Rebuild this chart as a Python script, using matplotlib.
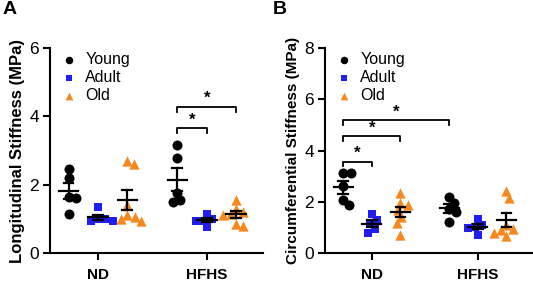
import numpy as np
import matplotlib
matplotlib.use('Agg')
import matplotlib.pyplot as plt

plt.rcParams['font.family'] = ['Liberation Sans', 'DejaVu Sans']

diets = ['ND', 'HFHS']
ages = ['Young', 'Adult', 'Old']
colors = ['#000000', '#1f1ff5', '#f5891f']
markers = ['o', 's', '^']

# longitudinal stiffness (MPa), panel A
long_nd_young = [2.45, 2.2, 1.65, 1.6, 1.15]
long_nd_adult = [1.35, 1.0, 0.95, 0.95, 1.0]
long_nd_old = [2.7, 2.6, 1.4, 1.1, 1.05, 1.0, 0.95]
long_hfhs_young = [3.16, 2.78, 1.75, 1.5, 1.55]
long_hfhs_adult = [1.15, 1.0, 0.95, 0.95, 0.75]
long_hfhs_old = [1.55, 1.3, 1.2, 1.15, 1.1, 0.85, 0.8]

# circumferential stiffness (MPa), panel B
circ_nd_young = [3.13, 3.13, 2.6, 1.88, 2.07]
circ_nd_adult = [1.52, 1.3, 1.17, 0.78, 0.94]
circ_nd_old = [2.35, 1.97, 1.88, 1.69, 1.42, 1.17, 0.71]
circ_hfhs_young = [2.2, 1.97, 1.72, 1.61, 1.22]
circ_hfhs_adult = [1.33, 1.1, 1.0, 0.98, 0.72]
circ_hfhs_old = [2.43, 2.16, 1.1, 0.95, 0.9, 0.8, 0.67]

long_groups = [[long_nd_young, long_nd_adult, long_nd_old],
               [long_hfhs_young, long_hfhs_adult, long_hfhs_old]]
circ_groups = [[circ_nd_young, circ_nd_adult, circ_nd_old],
               [circ_hfhs_young, circ_hfhs_adult, circ_hfhs_old]]

# significance brackets: ((diet, age), (diet, age), bracket height)
long_sig = [((1, 0), (1, 1), 3.65), ((1, 0), (1, 2), 4.27)]
circ_sig = [((0, 0), (0, 1), 3.57), ((0, 0), (0, 2), 4.55), ((0, 0), (1, 0), 5.18)]

offsets = [-0.27, 0.0, 0.27]


def swarm(ax, xc, vals, d):
    # simple beeswarm in pixel space, returns x positions in data units
    pts = ax.transData.transform(np.column_stack([np.full(len(vals), xc), vals]))
    x0 = pts[0, 0]
    order = np.argsort(vals)[::-1]
    placed = []
    xs = np.zeros(len(vals))
    for i in order:
        y = pts[i, 1]
        cands = [0.0]
        for (px, py) in placed:
            dy = abs(py - y)
            if dy < d:
                dx = np.sqrt(d * d - dy * dy)
                cands += [px - x0 + dx, px - x0 - dx]
        cands.sort(key=abs)
        for c in cands:
            if all((px - x0 - c) ** 2 + (py - y) ** 2 >= d * d - 1e-6 for (px, py) in placed):
                break
        placed.append((x0 + c, y))
        xs[i] = x0 + c
    inv = ax.transData.inverted()
    return inv.transform(np.column_stack([xs, pts[:, 1]]))[:, 0]


def panel(ax, groups, sig, ymax, ylabel, ylabel_size):
    ax.set_xlim(-0.44, 1.52)
    ax.set_ylim(0, ymax)
    for gi, diet in enumerate(groups):
        for ai, vals in enumerate(diet):
            xc = gi + offsets[ai]
            vals = np.array(vals)
            xs = swarm(ax, xc, vals, 7.5)
            ax.scatter(xs, vals, s=[52, 38, 55][ai], marker=markers[ai], color=colors[ai],
                       linewidths=0, zorder=2, clip_on=False,
                       label=ages[ai] if gi == 0 else None)
            m = vals.mean()
            se = vals.std(ddof=1) / np.sqrt(len(vals))
            ax.plot([xc - 0.09, xc + 0.09], [m, m], color='black', lw=1.6, zorder=3)
            ax.plot([xc, xc], [m - se, m + se], color='black', lw=1.6, zorder=3)
            ax.plot([xc - 0.045, xc + 0.045], [m + se, m + se], color='black', lw=1.6, zorder=3)
            ax.plot([xc - 0.045, xc + 0.045], [m - se, m - se], color='black', lw=1.6, zorder=3)
    h = ymax * 0.022
    for (g1, a1), (g2, a2), yb in sig:
        x1 = g1 + offsets[a1]
        x2 = g2 + offsets[a2]
        ax.plot([x1, x1, x2, x2], [yb - h, yb, yb, yb - h], color='black', lw=1.3)
        ax.text((x1 + x2) / 2, yb + h * 0.2, '*', ha='center', va='bottom',
                fontsize=12, fontweight='bold')
    ax.set_xticks([0, 1])
    ax.set_xticklabels(diets, fontsize=11, fontweight='bold')
    ax.set_yticks(np.arange(0, ymax + 1, 2))
    ax.tick_params(axis='y', labelsize=12.5, width=1.5, length=5, pad=3)
    ax.tick_params(axis='x', width=1.5, length=5, pad=6)
    for s in ['top', 'right']:
        ax.spines[s].set_visible(False)
    for s in ['left', 'bottom']:
        ax.spines[s].set_linewidth(1.5)
    ax.set_ylabel(ylabel, fontsize=ylabel_size, fontweight='bold', labelpad=3)
    ax.legend(loc='upper left', bbox_to_anchor=(0.0, 1.035), frameon=False,
              fontsize=11.5, markerscale=0.75, handletextpad=0.5,
              labelspacing=0.2, handlelength=1.0, borderaxespad=0.3)
    return ax


fig = plt.figure(figsize=(5.33, 2.84), dpi=100)
axA = fig.add_axes([0.094, 0.109, 0.4, 0.722])
axB = fig.add_axes([0.61, 0.109, 0.39, 0.722])
panel(axA, long_groups, long_sig, 6, 'Longitudinal Stiffness (MPa)', 12)
panel(axB, circ_groups, circ_sig, 8, 'Circumferential Stiffness (MPa)', 11)
fig.text(0.004, 0.995, 'A', fontsize=14, fontweight='bold', va='top')
fig.text(0.512, 0.995, 'B', fontsize=14, fontweight='bold', va='top')

fig.savefig('out.png', dpi=100)
